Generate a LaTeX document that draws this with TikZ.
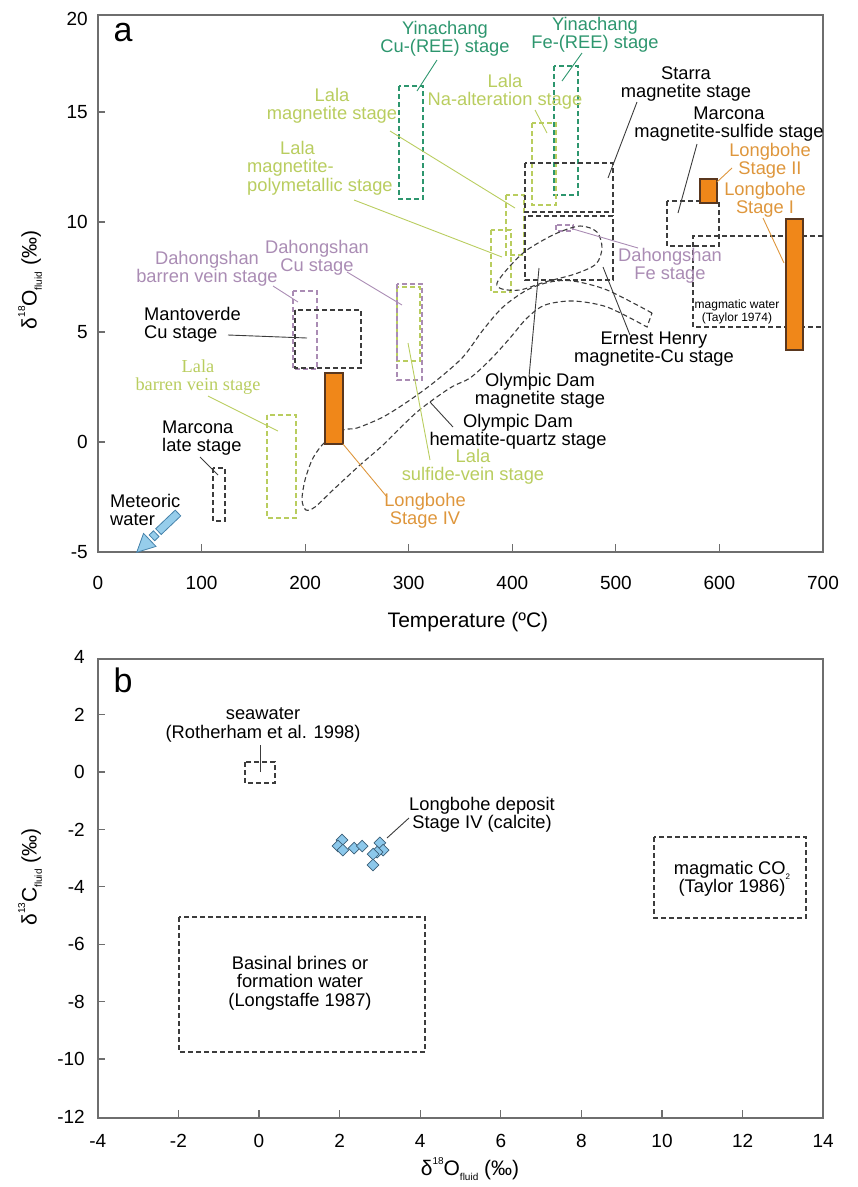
\documentclass[tikz,border=0pt]{standalone}
\usepackage{fontspec}
\setmainfont{Liberation Sans}
\newfontfamily\serifface{Liberation Serif}
\usetikzlibrary{shapes.geometric}

\definecolor{yincol}{RGB}{45,150,110}
\definecolor{lalacol}{RGB}{185,205,95}
\definecolor{dhcol}{RGB}{170,140,180}
\definecolor{lbcol}{RGB}{222,150,60}
\definecolor{lbfillcol}{RGB}{240,135,25}
\definecolor{lbdrawcol}{RGB}{90,55,30}
\definecolor{boxcol}{RGB}{60,60,60}
\definecolor{framecol}{RGB}{110,110,110}
\definecolor{diamcol}{RGB}{140,200,235}
\definecolor{diamdraw}{RGB}{60,95,120}
\definecolor{metcol}{RGB}{150,205,235}
\definecolor{metdraw}{RGB}{70,130,170}

\newcommand{\supx}[1]{\raisebox{0.55em}{\fontsize{10}{10}\selectfont #1}}
\newcommand{\subx}[1]{\raisebox{-0.25em}{\fontsize{10}{10}\selectfont #1}}
\newcommand{\subs}[1]{\raisebox{-0.25em}{\fontsize{8}{8}\selectfont #1}}

\tikzset{
  lbl/.style={align=center, inner sep=0pt, font=\fontsize{18.3}{18.5}\selectfont},
  lblL/.style={lbl, align=left},
  ticklbl/.style={inner sep=0pt, font=\fontsize{19}{20}\selectfont},
  axtitle/.style={inner sep=0pt, font=\fontsize{21}{22}\selectfont},
  dbox/.style={draw=#1, line width=1.1pt, dash pattern=on 5pt off 3pt},
  lead/.style={draw=#1, line width=0.9pt},
  lbbar/.style={draw=lbdrawcol, fill=lbfillcol, line width=1.1pt},
  frame/.style={draw=framecol, line width=1.5pt},
  metarrow/.style={draw=metdraw, fill=metcol, line width=0.8pt},
  diam/.style={diamond, draw=diamdraw, fill=diamcol, line width=0.7pt, minimum size=12pt, inner sep=0pt}
}

\begin{document}
\begin{tikzpicture}[x=1pt, y=-1pt]
    \useasboundingbox (0,0) rectangle (858,1187);

    %%%%%%%%%% Panel a: frame %%%%%%%%%%
    \draw[frame] (98,15) rectangle (823,552);
    \foreach \t in {100,200,...,600}
        \draw[frame, line width=1.2pt] (98+1.0357*\t,552) -- ++(0,-8);
    \foreach \v in {15,10,5,0}
        \draw[frame, line width=1.2pt] (98,442-22*\v) -- ++(7,0);
    \foreach \t in {0,100,...,700}
        \node[ticklbl] (tx\t) at (98+1.0357*\t,583) {\t};
    \node[ticklbl, anchor=east] (ty20) at (88,19) {20};
    \foreach \v in {15,10,5,0,-5}
        \node[ticklbl, anchor=east] (ty\v) at (88,442-22*\v) {\v};
    \node[axtitle] (xtitA) at (468,622) {Temperature (ºC)};
    \node[axtitle, rotate=90] (ytitA) at (30,280) {δ\supx{18}O\subx{fluid} (‰)};
    \node[inner sep=0pt, font=\fontsize{34}{34}\selectfont] (pa) at (123,33) {a};

    %%%%%%%%%% Panel a: boxes %%%%%%%%%%
    \draw[dbox=yincol] (399,86) rectangle (423,199);
    \draw[dbox=yincol] (554,66) rectangle (578,195);
    \draw[dbox=lalacol] (532,123) rectangle (556,205);
    \draw[dbox=lalacol] (506,195) rectangle (524,255);
    \draw[dbox=lalacol] (491,230) rectangle (511,292);
    \draw[dbox=lalacol] (397,287) rectangle (420,361);
    \draw[dbox=lalacol] (267,415) rectangle (296,518);
    \draw[dbox=dhcol] (293,291) rectangle (317,369);
    \draw[dbox=dhcol] (397,284) rectangle (422,380);
    \draw[dbox=dhcol] (556,225) rectangle (573,231);
    \draw[dbox=boxcol] (525,163) rectangle (613,212);
    \draw[dbox=boxcol] (525,216) rectangle (613,280);
    \draw[dbox=boxcol] (667,201) rectangle (719,246);
    \draw[dbox=boxcol] (295,310) rectangle (361,368);
    \draw[dbox=boxcol] (213,468) rectangle (225,521);
    \draw[dbox=boxcol] (823,236) -- (693,236) -- (693,327) -- (823,327);

    %%%%%%%%%% Panel a: Olympic Dam fields %%%%%%%%%%
    \draw[dbox=boxcol] plot[smooth] coordinates {(652,313) (607,290) (573,281) (550,282)
        (527,290) (503,307) (483,330) (463,357) (437,380) (410,400) (383,417) (357,428)
        (343,430) (325,442) (313,458) (305,480) (302,500) (306,510) (315,507) (333,490)
        (360,465) (383,445) (417,412) (450,388) (470,378) (490,360) (510,338) (527,318)
        (545,305) (573,301) (607,307) (647,327)} -- cycle;
    \draw[dbox=boxcol] plot[smooth cycle] coordinates {(497,283) (510,266) (527,250)
        (555,234) (580,226) (597,232) (602,248) (596,264) (575,274) (545,282) (520,290) (502,289)};

    %%%%%%%%%% Panel a: Longbohe bars %%%%%%%%%%
    \draw[lbbar] (325,373) rectangle (343,444);
    \draw[lbbar] (700,179) rectangle (717,203);
    \draw[lbbar] (786,219) rectangle (803,350);

    %%%%%%%%%% Meteoric water arrow %%%%%%%%%%
    \begin{scope}[shift={(178,513)}, rotate=223.6]
        \draw[metarrow] (0,-4) rectangle (27,4);
        \draw[metarrow] (30,-4) rectangle (36,4);
        \draw[metarrow] (39,-9) -- (57,0) -- (39,9) -- cycle;
    \end{scope}

    %%%%%%%%%% Panel a: labels %%%%%%%%%%
    \node[lbl, text=yincol] (yinCu) at (445,39) {Yinachang\\Cu-(REE) stage};
    \node[lbl, text=yincol] (yinFe) at (595,35) {Yinachang\\Fe-(REE) stage};
    \node[lbl, text=lalacol] (lalaMag) at (332,106) {Lala\\magnetite stage};
    \node[lblL, text=lalacol, anchor=west] (lalaPoly) at (247,168) {\hspace*{33pt}Lala\\magnetite-\\polymetallic stage};
    \node[lbl, text=lalacol] (lalaNa) at (505,92) {Lala\\Na-alteration stage};
    \node[lbl] (starra) at (686,84) {Starra\\magnetite stage};
    \node[lbl] (marMS) at (729,124) {Marcona\\magnetite-sulfide stage};
    \node[lbl, text=lbcol] (lbII) at (770,161) {Longbohe\\Stage II};
    \node[lbl, text=lbcol] (lbI) at (765,200) {Longbohe\\Stage I};
    \node[lbl, text=dhcol] (dhBarren) at (207,269) {Dahongshan\\barren vein stage};
    \node[lbl, text=dhcol] (dhCu) at (317,258) {Dahongshan\\Cu stage};
    \node[lbl, text=dhcol] (dhFe) at (670,266) {Dahongshan\\Fe stage};
    \node[lblL, anchor=west] (mantoverde) at (144,325) {Mantoverde\\Cu stage};
    \node[lbl, text=lalacol, font=\serifface\fontsize{18.3}{18.5}\selectfont] (lalaBarren) at (198,377) {Lala\\barren vein stage};
    \node[lblL, anchor=west] (marLate) at (162,438) {Marcona\\late stage};
    \node[lblL, anchor=west] (meteoric) at (110,510) {Meteoric\\water};
    \node[lbl, text=lbcol] (lbIV) at (425,511) {Longbohe\\Stage IV};
    \node[lbl, text=lalacol] (lalaSulf) at (473,467) {Lala\\sulfide-vein stage};
    \node[lbl] (odHem) at (518,432) {Olympic Dam\\hematite-quartz stage};
    \node[lbl] (odMag) at (540,391) {Olympic Dam\\magnetite stage};
    \node[lbl] (ernest) at (654,349) {Ernest Henry\\magnetite-Cu stage};
    \node[lbl, font=\fontsize{12}{12.5}\selectfont] (magWater) at (737,312) {magmatic water\\(Taylor 1974)};

    %%%%%%%%%% Panel a: leaders %%%%%%%%%%
    \coordinate (yinCuA) at (417,91);   \coordinate (yinCuB) at (437,60);
    \coordinate (yinFeA) at (562,81);   \coordinate (yinFeB) at (582,53);
    \coordinate (lalaNaA) at (547,133); \coordinate (lalaNaB) at (535,110);
    \coordinate (lalaMagA) at (515,208); \coordinate (lalaMagB) at (390,131);
    \coordinate (lalaPolyA) at (502,257); \coordinate (lalaPolyB) at (354,200);
    \coordinate (starraA) at (608,178); \coordinate (starraB) at (637,102);
    \coordinate (marMSA) at (678,213);  \coordinate (marMSB) at (697,144);
    \coordinate (lbIIA) at (717,182);   \coordinate (lbIIB) at (732,168);
    \coordinate (lbIA) at (784,263);    \coordinate (lbIB) at (763,218);
    \coordinate (dhBarrenA) at (298,302); \coordinate (dhBarrenB) at (273,286);
    \coordinate (dhCuA) at (402,305);   \coordinate (dhCuB) at (347,272);
    \coordinate (dhFeA) at (573,229);   \coordinate (dhFeB) at (638,248);
    \coordinate (mantoA) at (307,338);  \coordinate (mantoB) at (228,335);
    \coordinate (lalaBarrenA) at (278,431); \coordinate (lalaBarrenB) at (208,396);
    \coordinate (marLateA) at (218,475); \coordinate (marLateB) at (200,457);
    \coordinate (lbIVA) at (343,444);   \coordinate (lbIVB) at (387,497);
    \coordinate (lalaSulfA) at (408,343); \coordinate (lalaSulfB) at (430,460);
    \coordinate (odHemA) at (430,402);  \coordinate (odHemB) at (453,427);
    \coordinate (odMagA) at (539,268);  \coordinate (odMagB) at (529,377);
    \coordinate (ernestA) at (603,267); \coordinate (ernestB) at (630,335);

    \draw[lead=yincol] (yinCuA) -- (yinCuB);
    \draw[lead=yincol] (yinFeA) -- (yinFeB);
    \draw[lead=lalacol] (lalaNaA) -- (lalaNaB);
    \draw[lead=lalacol] (lalaMagA) -- (lalaMagB);
    \draw[lead=lalacol] (lalaPolyA) -- (lalaPolyB);
    \draw[lead=boxcol] (starraA) -- (starraB);
    \draw[lead=boxcol] (marMSA) -- (marMSB);
    \draw[lead=lbcol] (lbIIA) -- (lbIIB);
    \draw[lead=lbcol] (lbIA) -- (lbIB);
    \draw[lead=dhcol] (dhBarrenA) -- (dhBarrenB);
    \draw[lead=dhcol] (dhCuA) -- (dhCuB);
    \draw[lead=dhcol] (dhFeA) -- (dhFeB);
    \draw[lead=boxcol] (mantoA) -- (mantoB);
    \draw[lead=lalacol] (lalaBarrenA) -- (lalaBarrenB);
    \draw[lead=boxcol] (marLateA) -- (marLateB);
    \draw[lead=lbcol] (lbIVA) -- (lbIVB);
    \draw[lead=lalacol] (lalaSulfA) -- (lalaSulfB);
    \draw[lead=boxcol] (odHemA) -- (odHemB);
    \draw[lead=boxcol] (odMagA) -- (odMagB);
    \draw[lead=boxcol] (ernestA) -- (ernestB);

    %%%%%%%%%% Panel b: frame %%%%%%%%%%
    \draw[frame] (98,659) rectangle (823,1118);
    \foreach \v in {-2,0,...,12}
        \draw[frame, line width=1.2pt] (259+40.3*\v,1118) -- ++(0,-8);
    \foreach \v in {2,0,...,-10}
        \draw[frame, line width=1.2pt] (98,772-28.7*\v) -- ++(7,0);
    \foreach \v in {-4,-2,...,14}
        \node[ticklbl] (bx\v) at (259+40.3*\v,1141) {\v};
    \foreach \v in {4,2,...,-12}
        \node[ticklbl, anchor=east] (by\v) at (85,772-28.7*\v) {\v};
    \node[axtitle] (xtitB) at (470,1169) {δ\supx{18}O\subx{fluid} (‰)};
    \node[axtitle, rotate=90] (ytitB) at (30,877) {δ\supx{13}C\subx{fluid} (‰)};
    \node[inner sep=0pt, font=\fontsize{34}{34}\selectfont] (pb) at (123,680) {b};

    %%%%%%%%%% Panel b: fields %%%%%%%%%%
    \draw[dbox=boxcol] (245,762) rectangle (275,783);
    \draw[dbox=boxcol] (654,837) rectangle (806,918);
    \draw[dbox=boxcol] (179,917) rectangle (425,1052);
    \node[lbl] (seawater) at (263,725) {seawater\\(Rotherham et al. 1998)};
    \node[lbl] (lbDep) at (482,815) {Longbohe deposit\\Stage IV (calcite)};
    \node[lbl] (magCO) at (732,879) {magmatic CO\subs{2}\\(Taylor 1986)};
    \node[lbl] (basinal) at (300,983) {Basinal brines or\\formation water\\(Longstaffe 1987)};
    \coordinate (seaA) at (260,772);    \coordinate (seaB) at (260,745);
    \coordinate (lbDepA) at (387,838);  \coordinate (lbDepB) at (409,818);
    \draw[lead=boxcol] (seaA) -- (seaB);
    \draw[lead=boxcol] (lbDepA) -- (lbDepB);

    %%%%%%%%%% Panel b: calcite data %%%%%%%%%%
    \foreach \x/\y [count=\i] in {2.06/-2.37, 1.96/-2.58, 2.08/-2.72, 2.36/-2.65, 2.56/-2.58,
                                  3.0/-2.47, 3.08/-2.72, 2.93/-2.79, 2.83/-2.86, 2.83/-3.24}
        \node[diam] (cal\i) at (259+40.3*\x,772-28.7*\y) {};
\end{tikzpicture}
\end{document}
